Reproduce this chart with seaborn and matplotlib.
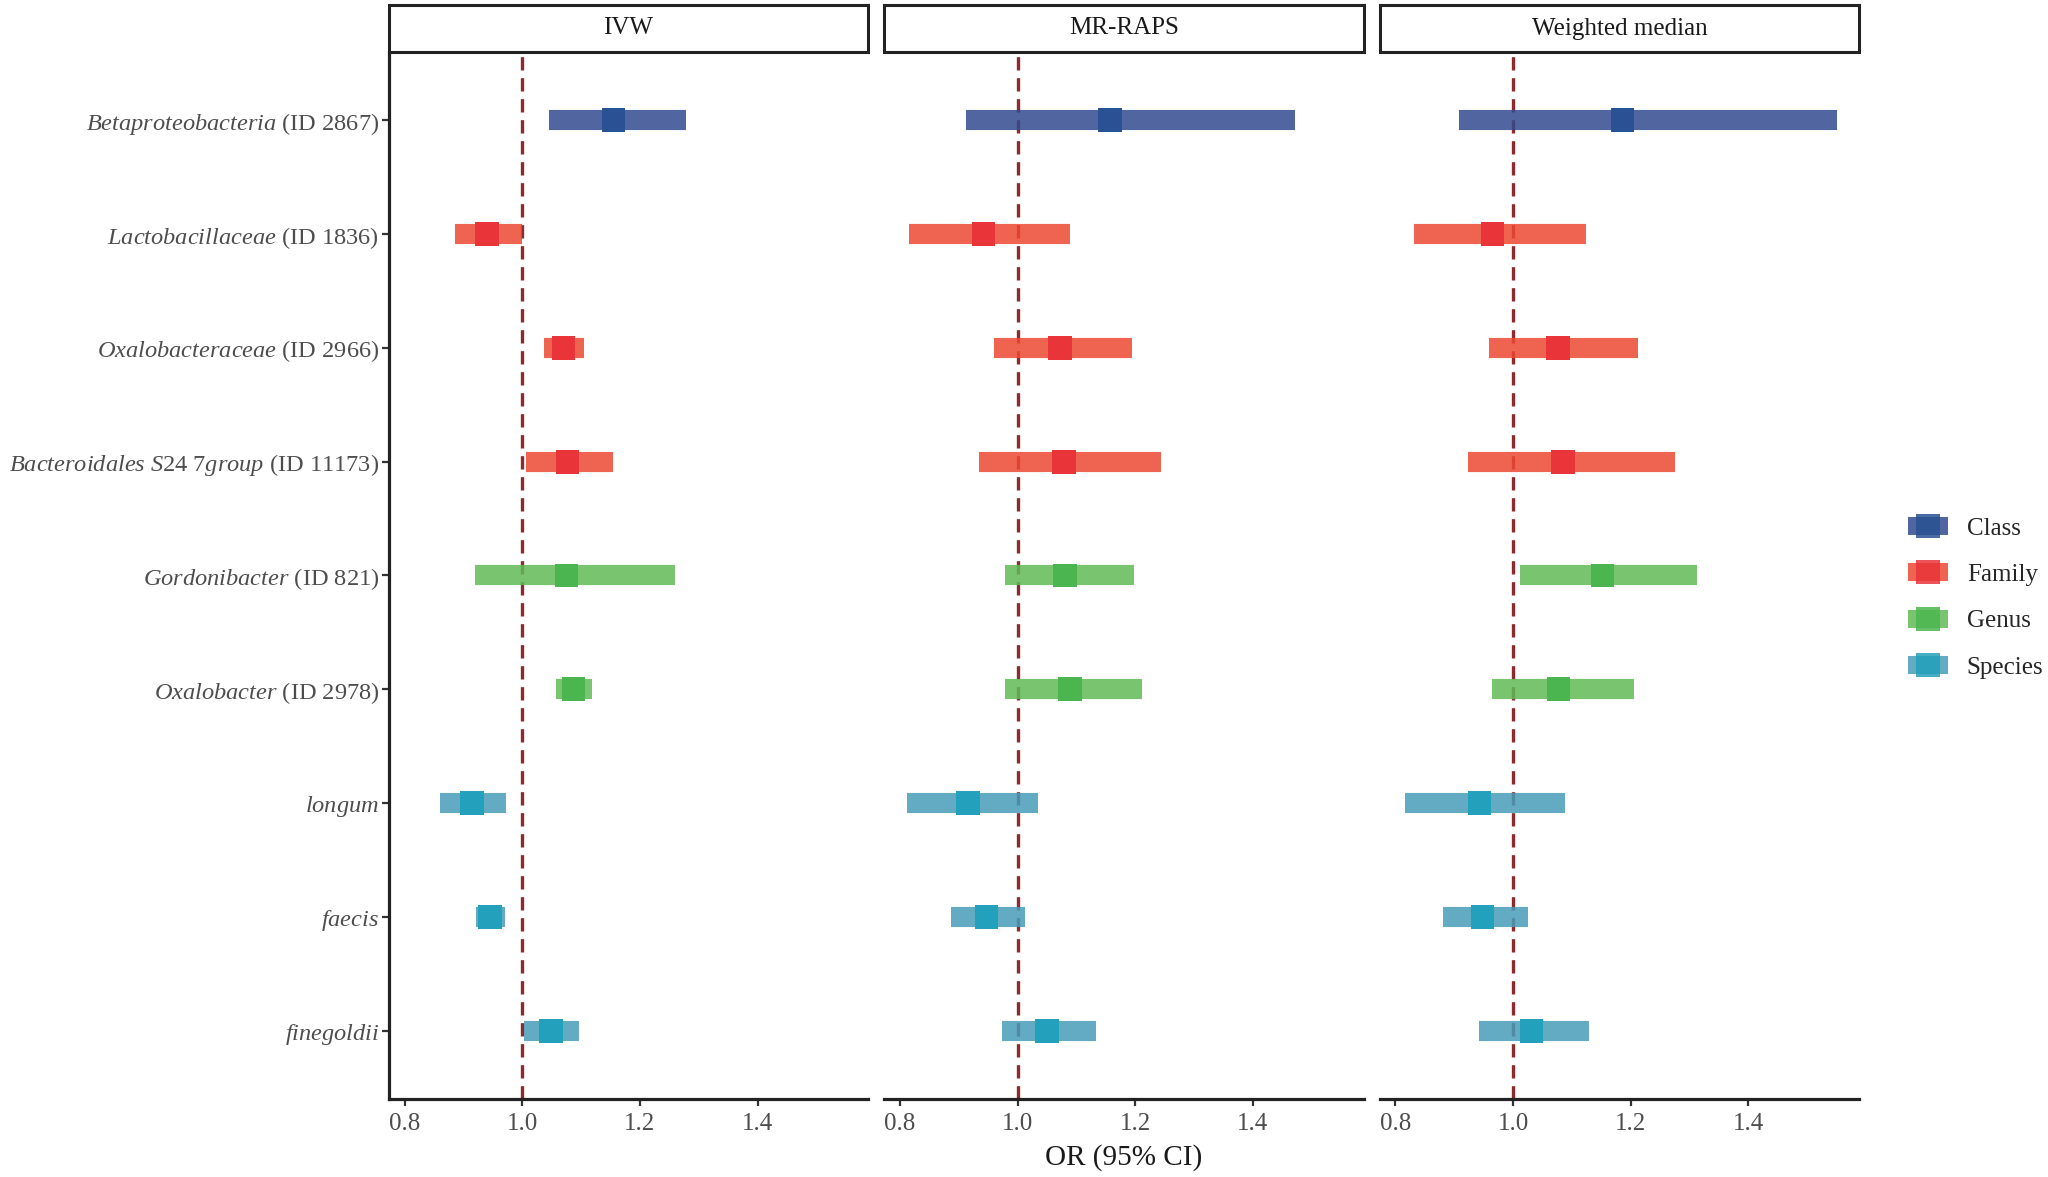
import pandas as pd
import matplotlib
matplotlib.use("Agg")
import matplotlib.pyplot as plt
import seaborn as sns
from matplotlib.lines import Line2D
from matplotlib.patches import Rectangle

# taxa, top to bottom
taxa = ["Betaproteobacteria", "Lactobacillaceae", "Oxalobacteraceae",
        "Bacteroidales S24 7group", "Gordonibacter", "Oxalobacter",
        "longum", "faecis", "finegoldii"]
taxa_ids = ["ID 2867", "ID 1836", "ID 2966", "ID 11173", "ID 821", "ID 2978",
            "", "", ""]
levels = ["Class", "Family", "Family", "Family", "Genus", "Genus",
          "Species", "Species", "Species"]
level_order = ["Class", "Family", "Genus", "Species"]
methods = ["IVW", "MR-RAPS", "Weighted median"]

# odds ratios and 95% CI
ivw_or = [1.155, 0.940, 1.070, 1.077, 1.075, 1.087, 0.915, 0.945, 1.049]
ivw_lo = [1.045, 0.885, 1.037, 1.006, 0.919, 1.057, 0.861, 0.921, 1.003]
ivw_hi = [1.279, 0.999, 1.105, 1.154, 1.260, 1.119, 0.973, 0.971, 1.097]

raps_or = [1.157, 0.942, 1.072, 1.079, 1.081, 1.089, 0.916, 0.947, 1.050]
raps_lo = [0.912, 0.815, 0.960, 0.935, 0.978, 0.978, 0.812, 0.886, 0.973]
raps_hi = [1.471, 1.089, 1.195, 1.244, 1.197, 1.212, 1.035, 1.012, 1.134]

wm_or = [1.186, 0.965, 1.076, 1.085, 1.152, 1.077, 0.943, 0.948, 1.031]
wm_lo = [0.908, 0.831, 0.959, 0.924, 1.012, 0.964, 0.817, 0.880, 0.942]
wm_hi = [1.550, 1.124, 1.212, 1.276, 1.312, 1.205, 1.088, 1.025, 1.129]

x_ticks = [0.8, 1.0, 1.2, 1.4]
x_tick_labels = ["0.8", "1.0", "1.2", "1.4"]

bar_colors = {"Class": "#334A8F", "Family": "#EB4932",
              "Genus": "#60BA56", "Species": "#469CB8"}
point_colors = {"Class": "#2A5193", "Family": "#E93439",
                "Genus": "#4BB64F", "Species": "#23A0BB"}

frames = []
for m, o, lo, hi in [(methods[0], ivw_or, ivw_lo, ivw_hi),
                     (methods[1], raps_or, raps_lo, raps_hi),
                     (methods[2], wm_or, wm_lo, wm_hi)]:
    frames.append(pd.DataFrame({"taxon": taxa, "level": levels, "method": m,
                                "OR": o, "lower": lo, "upper": hi}))
df = pd.concat(frames, ignore_index=True)
df["row"] = df["taxon"].map({t: i for i, t in enumerate(taxa)})

sns.set_theme(style="ticks")
plt.rcParams["font.family"] = ["Liberation Serif", "DejaVu Serif"]
plt.rcParams["mathtext.fontset"] = "custom"
plt.rcParams["mathtext.rm"] = "Liberation Serif"
plt.rcParams["mathtext.it"] = "Liberation Serif:italic"

grey_text = "#4D4D4D"
dark = "#222222"


def draw(data, **kws):
    ax = plt.gca()
    ax.axvline(1.0, color="#8E2A2E", ls=(0, (4, 2.3)), lw=2.4, zorder=1)
    ax.hlines(data["row"], data["lower"], data["upper"],
              colors=data["level"].map(bar_colors).tolist(),
              lw=14.5, alpha=0.85, capstyle="butt", zorder=2)
    sns.scatterplot(data=data, x="OR", y="row", hue="level",
                    hue_order=level_order, palette=point_colors, marker="s",
                    s=290, linewidth=0, legend=False, ax=ax, zorder=3)


g = sns.FacetGrid(df, col="method", col_order=methods, sharex=True,
                  sharey=True, height=5, aspect=1)
g.map_dataframe(draw)
fig = g.figure
fig.set_size_inches(20.48, 11.77)
fig.subplots_adjust(left=389 / 2048, right=1859 / 2048,
                    top=1 - 52 / 1177, bottom=1 - 1099 / 1177, wspace=0.034)
g.set_titles("")

ylabels = []
for name, tid in zip(taxa, taxa_ids):
    lab = r"$\mathit{" + name.replace(" ", r"\ ") + "}$"
    if tid:
        lab += " (" + tid + ")"
    ylabels.append(lab)

for i, ax in enumerate(g.axes.flat):
    ax.set_xlim(0.7735, 1.588)
    ax.set_ylim(len(taxa) - 0.4, -0.6)
    ax.set_xticks(x_ticks)
    ax.set_xticklabels(x_tick_labels)
    ax.set_xlabel("")
    ax.set_ylabel("")
    for s in ["top", "right"]:
        ax.spines[s].set_visible(False)
    ax.spines["bottom"].set_linewidth(2.3)
    ax.spines["bottom"].set_color(dark)
    ax.tick_params(axis="x", length=5, width=1.6, color="#333333",
                   labelsize=18, labelcolor=grey_text, pad=5)
    if i == 0:
        ax.spines["left"].set_linewidth(2.3)
        ax.spines["left"].set_color(dark)
        ax.set_yticks(range(len(taxa)))
        ax.set_yticklabels(ylabels)
        ax.tick_params(axis="y", length=5, width=1.6, color="#333333",
                       labelsize=17.6, labelcolor=grey_text, pad=2)
    else:
        ax.spines["left"].set_visible(False)
        ax.tick_params(axis="y", left=False, labelleft=False)
    # facet strip
    strip_h = 47 / 1047
    ax.add_patch(Rectangle((0, 1.0), 1, strip_h, transform=ax.transAxes,
                           facecolor="white", edgecolor=dark, lw=2.2,
                           clip_on=False, zorder=5))
    ax.text(0.5, 1 + strip_h / 2, methods[i], transform=ax.transAxes,
            ha="center", va="center", fontsize=18, color="#1A1A1A", zorder=6)

fig.text(1124 / 2048, 1 - 1158 / 1177, "OR (95% CI)", ha="center",
         va="center", fontsize=21, color="#1A1A1A")

handles = [Line2D([0], [0], color=bar_colors[l], alpha=0.85, lw=13,
                  marker="s", markersize=17, markerfacecolor=point_colors[l],
                  markeredgewidth=0, solid_capstyle="butt")
           for l in level_order]
fig.legend(handles, level_order, loc="center left",
           bbox_to_anchor=(1908 / 2048, 1 - 598 / 1177), frameon=False,
           fontsize=18, handlelength=1.6, handletextpad=0.75,
           labelspacing=0.95, borderpad=0, borderaxespad=0)

fig.savefig("out.png", dpi=100)
